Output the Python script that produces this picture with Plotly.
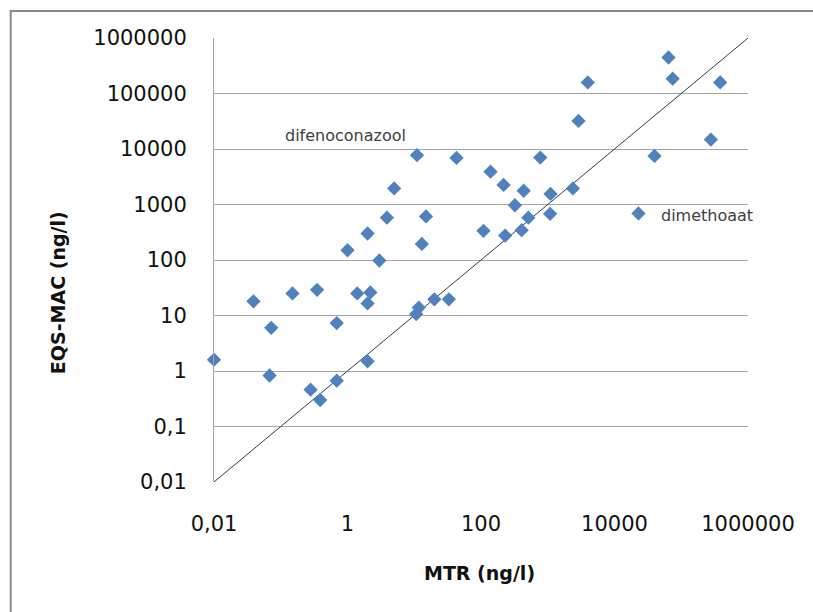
import plotly.graph_objects as go

# ---- data ----
mtr = [0.01, 0.039, 0.072, 0.068, 0.15, 0.35, 0.28, 0.39, 0.69, 0.69,
       1.0, 1.4, 2.0, 2.2, 2.0, 2.0, 3.0, 3.9, 5.0, 11,
       13, 15, 10.7, 11.7, 20, 33, 43, 109, 139, 218,
       230, 322, 406, 436, 513, 773, 1100, 1085, 2380, 2890,
       3980, 22850, 39800, 64400, 74300, 278000, 383000]
eqs_mac = [1.6, 18, 6.0, 0.83, 25, 29, 0.46, 0.30, 7.3, 0.67,
           150, 25, 300, 26, 16.5, 1.5, 98, 580, 1950, 7750,
           195, 610, 10.6, 13.9, 19.6, 19.6, 6900, 335, 3900, 2250,
           275, 970, 345, 1770, 580, 7000, 1550, 680, 1950, 32000,
           158000, 690, 7500, 445000, 185000, 14800, 158000]
line_xy = [0.01, 1000000]
tick_vals = [0.01, 1, 100, 10000, 1000000]
tick_text = ["0,01", "1", "100", "10000", "1000000"]
ytick_vals = [0.01, 0.1, 1, 10, 100, 1000, 10000, 100000, 1000000]
ytick_text = ["0,01", "0,1", "1", "10", "100", "1000", "10000", "100000", "1000000"]
label_names = ["difenoconazool", "dimethoaat"]
x_title = "MTR (ng/l)"
y_title = "EQS-MAC (ng/l)"

W, H = 813, 612
L, R, T, B = 214, 64.5, 38, 130
PW, PH = W - L - R, H - T - B


def px(xp):
    return (xp - L) / PW


def py(yp):
    return (H - B - yp) / PH


fig = go.Figure()
fig.add_trace(go.Scatter(x=line_xy, y=line_xy, mode="lines",
                         line=dict(color="#3a3a3a", width=1),
                         hoverinfo="skip", showlegend=False))
fig.add_trace(go.Scatter(x=mtr, y=eqs_mac, mode="markers",
                         marker=dict(symbol="diamond", size=11, color="#4F81BD",
                                     line=dict(width=0)),
                         cliponaxis=False, showlegend=False))

tick_font = dict(family="DejaVu Sans", size=21, color="#111111")
fig.update_layout(
    width=W, height=H,
    margin=dict(l=L, r=R, t=T, b=B, pad=0),
    paper_bgcolor="white", plot_bgcolor="white",
    showlegend=False,
    xaxis=dict(type="log", range=[-2, 6], tickvals=tick_vals, ticktext=tick_text,
               showgrid=False, zeroline=False, showline=True, linecolor="white",
               linewidth=2, ticks="", tickfont=tick_font, ticklabelstandoff=22),
    yaxis=dict(type="log", range=[-2, 6], tickvals=ytick_vals, ticktext=ytick_text,
               showgrid=True, gridcolor="#a6a6a6", gridwidth=1, zeroline=False,
               showline=True, linecolor="#a6a6a6", linewidth=1, ticks="",
               tickfont=tick_font, ticklabelstandoff=22),
    annotations=[
        dict(text=label_names[0], xref="paper", yref="paper", x=px(346), y=py(135),
             xanchor="center", yanchor="middle", showarrow=False,
             font=dict(family="DejaVu Sans", size=16, color="#404040")),
        dict(text=label_names[1], xref="paper", yref="paper", x=px(659), y=py(215),
             xanchor="left", yanchor="middle", showarrow=False,
             font=dict(family="DejaVu Sans", size=16, color="#404040")),
        dict(text="<b>" + x_title + "</b>", xref="paper", yref="paper", x=px(480), y=py(573),
             xanchor="center", yanchor="middle", showarrow=False,
             font=dict(family="DejaVu Sans", size=19, color="#111111")),
        dict(text="<b>" + y_title + "</b>", xref="paper", yref="paper", x=px(57.5), y=py(292.5),
             xanchor="center", yanchor="middle", showarrow=False, textangle=-90,
             font=dict(family="DejaVu Sans", size=19, color="#111111")),
    ],
    shapes=[
        dict(type="rect", xref="paper", yref="paper", x0=px(10.5), y0=py(640),
             x1=px(840), y1=py(11), line=dict(color="#8a8a8a", width=2),
             fillcolor="rgba(0,0,0,0)", layer="above"),
    ],
)

fig.write_html("out.html",
               config={"displayModeBar": False},
               post_script="document.body.style.margin='0';"
                           "document.body.style.overflow='hidden';")
